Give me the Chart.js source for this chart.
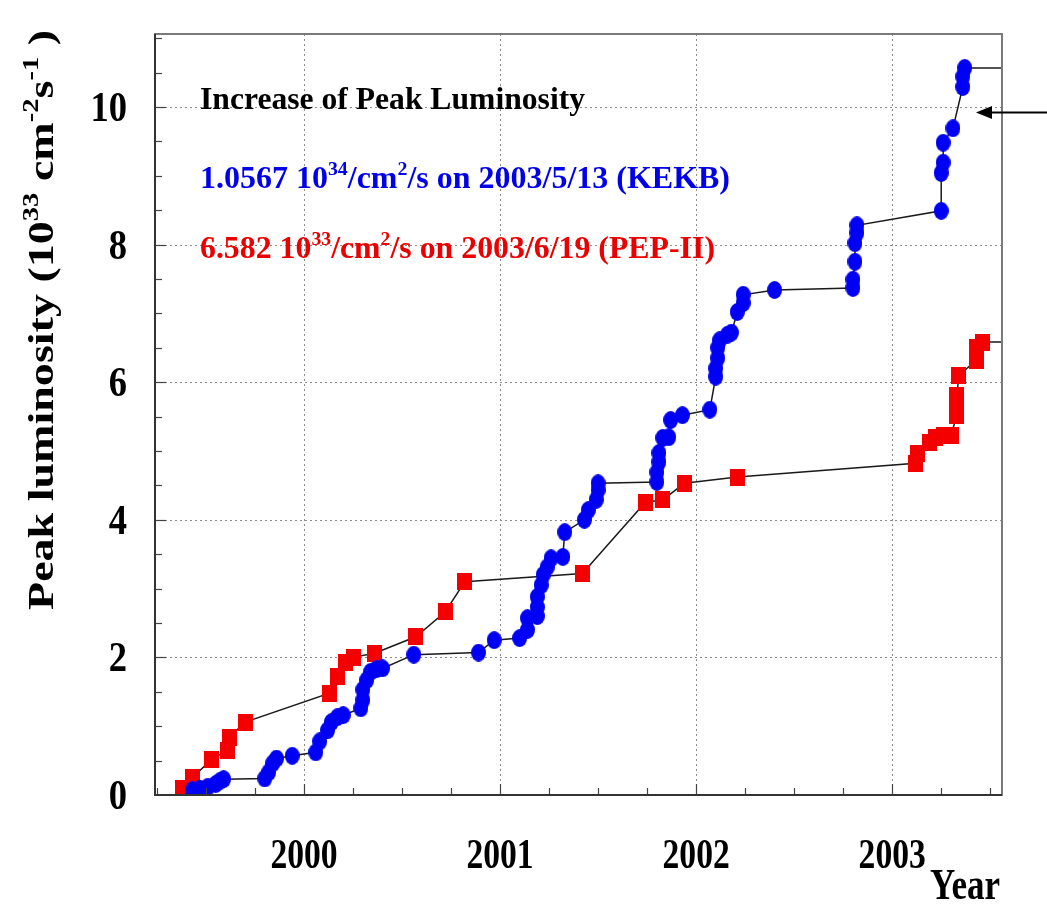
<!DOCTYPE html>
<html><head><meta charset="utf-8">
<script src="https://cdn.jsdelivr.net/npm/chart.js@4/dist/chart.umd.min.js"></script>
<style>html,body{margin:0;padding:0;background:#fff;}canvas{display:block;}</style>
</head><body>
<canvas id="c" width="1047" height="918"></canvas>
<script>
// ---- data ----
const KEKB_YEAR = [1999.43,1999.47,1999.51,1999.55,1999.57,1999.59,
  1999.80,1999.82,1999.84,1999.86,1999.94,
  2000.06,2000.08,2000.12,2000.14,2000.17,2000.20,2000.29,2000.30,2000.30,2000.32,2000.34,2000.37,2000.40,
  2000.56,2000.89,2000.97,2001.10,2001.14,2001.14,2001.19,2001.19,2001.19,2001.21,2001.22,2001.24,2001.26,
  2001.32,2001.33,2001.43,2001.45,2001.49,2001.50,2001.50,
  2001.80,2001.80,2001.81,2001.81,2001.83,2001.86,2001.87,2001.93,
  2002.07,2002.10,2002.10,2002.11,2002.11,2002.12,2002.16,2002.18,2002.21,2002.24,2002.24,
  2002.40,2002.80,2002.80,2002.81,2002.81,2002.82,2002.82,
  2003.25,2003.25,2003.26,2003.26,2003.31,2003.36,2003.36,2003.37];
const KEKB_LUMI = [0.07,0.09,0.12,0.16,0.20,0.23,
  0.24,0.33,0.46,0.53,0.57,
  0.62,0.78,0.94,1.06,1.13,1.16,1.26,1.38,1.53,1.67,1.79,1.83,1.84,
  2.04,2.07,2.25,2.28,2.40,2.57,2.60,2.73,2.88,3.05,3.20,3.31,3.44,
  3.46,3.82,4.00,4.14,4.29,4.43,4.53,
  4.55,4.69,4.84,4.97,5.19,5.20,5.45,5.52,
  5.60,6.08,6.20,6.35,6.50,6.61,6.69,6.72,7.02,7.15,7.27,
  7.34,7.37,7.49,7.75,8.02,8.17,8.28,
  8.49,9.04,9.19,9.48,9.69,10.29,10.44,10.567];
const PEP_YEAR = [1999.38,1999.43,1999.53,1999.61,1999.62,1999.70,
  2000.13,2000.17,2000.21,2000.25,2000.36,2000.57,2000.72,2000.82,
  2001.42,2001.74,2001.83,2001.94,2002.21,
  2003.12,2003.13,2003.19,2003.22,2003.26,2003.30,2003.33,2003.33,2003.33,2003.34,
  2003.43,2003.43,2003.46];
const PEP_LUMI = [0.10,0.25,0.52,0.65,0.84,1.06,
  1.48,1.72,1.92,2.00,2.06,2.30,2.66,3.10,
  3.22,4.25,4.29,4.53,4.62,
  4.82,4.97,5.12,5.20,5.23,5.23,5.52,5.74,5.81,6.10,
  6.32,6.50,6.582];
const X_TICKS = [2000, 2001, 2002, 2003];
const X_TICK_LABELS = ['2000', '2001', '2002', '2003'];
const Y_TICKS = [0, 2, 4, 6, 8, 10];
const Y_TICK_LABELS = ['0', '2', '4', '6', '8', '10'];
const X_MINOR_STEP = 0.25;
const Y_MINOR_STEP = 0.5;
const X_RANGE = [1999.24, 2003.56];
const Y_RANGE = [0, 11.06];
const ARROW_Y = 9.92;

// ---- styling helpers ----
const FAM = "'Liberation Serif','DejaVu Serif',serif";
function ptImage(w, h, color, shape) {
  const c = document.createElement('canvas'); c.width = w; c.height = h;
  const g = c.getContext('2d'); g.fillStyle = color;
  if (shape === 'ellipse') { g.beginPath(); g.ellipse(w/2, h/2, w/2, h/2, 0, 0, Math.PI*2); g.fill(); }
  else g.fillRect(0, 0, w, h);
  return c;
}
const BLUE_PT = ptImage(15, 18, '#0000f4', 'ellipse');
const RED_PT = ptImage(15, 17, '#f40000', 'rect');

function richWidth(ctx, parts, F) {
  let w = 0;
  for (const p of parts) { ctx.font = 'bold ' + (p.sup ? F*0.62 : F) + 'px ' + FAM; w += ctx.measureText(p.t).width; }
  return w;
}
function drawRich(ctx, parts, x, y, F, o) {
  const W = richWidth(ctx, parts, F);
  const sx = o.width ? o.width / W : (o.sx || 1);
  ctx.save();
  ctx.translate(x, y);
  if (o.rotate) ctx.rotate(-Math.PI/2);
  ctx.scale(sx, o.sy || 1);
  ctx.fillStyle = o.color || '#000';
  ctx.textBaseline = 'alphabetic'; ctx.textAlign = 'left';
  let cx = o.align === 'right' ? -W : (o.align === 'center' ? -W/2 : 0);
  for (const p of parts) {
    ctx.font = 'bold ' + (p.sup ? F*0.62 : F) + 'px ' + FAM;
    ctx.fillText(p.t, cx, p.sup ? -F*0.42 : 0);
    cx += ctx.measureText(p.t).width;
  }
  ctx.restore();
}

const deco = {
  id: 'deco',
  beforeDatasetsDraw(chart) {
    const {ctx, chartArea: a, scales: {x, y}} = chart;
    ctx.save();
    ctx.strokeStyle = '#8c8c8c'; ctx.lineWidth = 1; ctx.setLineDash([2, 3]);
    X_TICKS.forEach(v => { const px = Math.round(x.getPixelForValue(v)) + 0.5;
      ctx.beginPath(); ctx.moveTo(px, a.top); ctx.lineTo(px, a.bottom); ctx.stroke(); });
    Y_TICKS.forEach(v => { if (v <= Y_RANGE[0]) return; const py = Math.round(y.getPixelForValue(v)) + 0.5;
      ctx.beginPath(); ctx.moveTo(a.left, py); ctx.lineTo(a.right, py); ctx.stroke(); });
    ctx.restore();
  },
  afterDatasetsDraw(chart) {
    const {ctx, chartArea: a, scales: {x, y}} = chart;
    ctx.save();
    // ticks
    ctx.strokeStyle = '#444'; ctx.lineWidth = 1.2;
    for (let v = Math.ceil(X_RANGE[0]/X_MINOR_STEP)*X_MINOR_STEP; v <= X_RANGE[1]; v += X_MINOR_STEP) {
      const major = Math.abs(v - Math.round(v)) < 1e-6;
      const px = Math.round(x.getPixelForValue(v)) + 0.5;
      ctx.beginPath(); ctx.moveTo(px, a.bottom); ctx.lineTo(px, a.bottom - (major ? 11 : 7)); ctx.stroke();
    }
    for (let v = Y_RANGE[0] + Y_MINOR_STEP; v <= Y_RANGE[1]; v += Y_MINOR_STEP) {
      const major = Math.abs(v/2 - Math.round(v/2)) < 1e-6;
      const py = Math.round(y.getPixelForValue(v)) + 0.5;
      ctx.beginPath(); ctx.moveTo(a.left, py); ctx.lineTo(a.left + (major ? 11 : 7), py); ctx.stroke();
    }
    // frame
    ctx.strokeStyle = '#7a7a7a'; ctx.lineWidth = 2;
    ctx.strokeRect(a.left, a.top, a.right - a.left, a.bottom - a.top);
    ctx.strokeStyle = '#333'; ctx.beginPath();
    ctx.moveTo(a.left, a.top); ctx.lineTo(a.left, a.bottom); ctx.lineTo(a.right, a.bottom); ctx.stroke();
    ctx.restore();
    // tick labels
    X_TICKS.forEach((v, i) => drawRich(ctx, [{t: X_TICK_LABELS[i]}], x.getPixelForValue(v), a.bottom + 73, 42, {sx: 0.8, align: 'center'}));
    Y_TICKS.forEach((v, i) => drawRich(ctx, [{t: Y_TICK_LABELS[i]}], a.left - 28, y.getPixelForValue(v) + 14, 42, {sx: 0.87, align: 'right'}));
    // axis titles
    drawRich(ctx, [{t: 'Year'}], a.right - 2, a.bottom + 104, 44, {width: 70, align: 'right'});
    drawRich(ctx, [{t: 'Peak luminosity (10'}, {t: '33', sup: 1}, {t: ' cm'}, {t: '-2', sup: 1}, {t: 's'}, {t: '-1', sup: 1}, {t: ' )'}],
      53, 320, 38, {width: 580, rotate: true, align: 'center', sy: 0.97});
    // annotations
    drawRich(ctx, [{t: 'Increase of Peak Luminosity'}], 200, 109, 32, {width: 385, color: '#000'});
    drawRich(ctx, [{t: '1.0567 10'}, {t: '34', sup: 1}, {t: '/cm'}, {t: '2', sup: 1}, {t: '/s on 2003/5/13 (KEKB)'}], 200, 188, 32, {width: 530, color: '#0000ea'});
    drawRich(ctx, [{t: '6.582 10'}, {t: '33', sup: 1}, {t: '/cm'}, {t: '2', sup: 1}, {t: '/s on 2003/6/19 (PEP-II)'}], 200, 258, 32, {width: 515, color: '#ea0000'});
    // arrow
    const ay = Math.round(y.getPixelForValue(ARROW_Y)) + 0.5, tip = a.right - 26;
    ctx.save(); ctx.strokeStyle = '#000'; ctx.fillStyle = '#000'; ctx.lineWidth = 2;
    ctx.beginPath(); ctx.moveTo(chart.width, ay); ctx.lineTo(tip + 10, ay); ctx.stroke();
    ctx.beginPath(); ctx.moveTo(tip, ay); ctx.lineTo(tip + 16, ay - 6.5); ctx.lineTo(tip + 16, ay + 6.5); ctx.closePath(); ctx.fill();
    ctx.restore();
  }
};

const kekbPts = KEKB_YEAR.map((v, i) => ({x: v, y: KEKB_LUMI[i]}));
const pepPts = PEP_YEAR.map((v, i) => ({x: v, y: PEP_LUMI[i]}));
const kekbLine = kekbPts.concat([{x: X_RANGE[1], y: KEKB_LUMI[KEKB_LUMI.length - 1]}]);
const pepLine = pepPts.concat([{x: X_RANGE[1], y: PEP_LUMI[PEP_LUMI.length - 1]}]);

new Chart(document.getElementById('c'), {
  type: 'scatter',
  data: {
    datasets: [
      {label: 'KEKB', data: kekbPts, pointStyle: BLUE_PT, pointRadius: 9, showLine: false, order: 0},
      {label: 'PEP-II', data: pepPts, pointStyle: RED_PT, pointRadius: 9, showLine: false, order: 1},
      {label: 'KEKB line', data: kekbLine, showLine: true, pointRadius: 0, borderColor: '#1a1a1a', borderWidth: 1.5, order: 2},
      {label: 'PEP-II line', data: pepLine, showLine: true, pointRadius: 0, borderColor: '#1a1a1a', borderWidth: 1.5, order: 3}
    ]
  },
  options: {
    responsive: false, animation: false, devicePixelRatio: 1,
    layout: {padding: {left: 0, top: 34, right: 45, bottom: 0}},
    plugins: {legend: {display: false}, tooltip: {enabled: false}},
    scales: {
      x: {type: 'linear', min: X_RANGE[0], max: X_RANGE[1],
        afterBuildTicks: s => { s.ticks = X_TICKS.map(v => ({value: v})); },
        afterFit: s => { s.height = 123; },
        grid: {display: false}, border: {display: false}, ticks: {display: false}},
      y: {type: 'linear', min: Y_RANGE[0], max: Y_RANGE[1],
        afterBuildTicks: s => { s.ticks = Y_TICKS.map(v => ({value: v})); },
        afterFit: s => { s.width = 155; },
        grid: {display: false}, border: {display: false}, ticks: {display: false}}
    }
  },
  plugins: [deco]
});
</script>
</body></html>
